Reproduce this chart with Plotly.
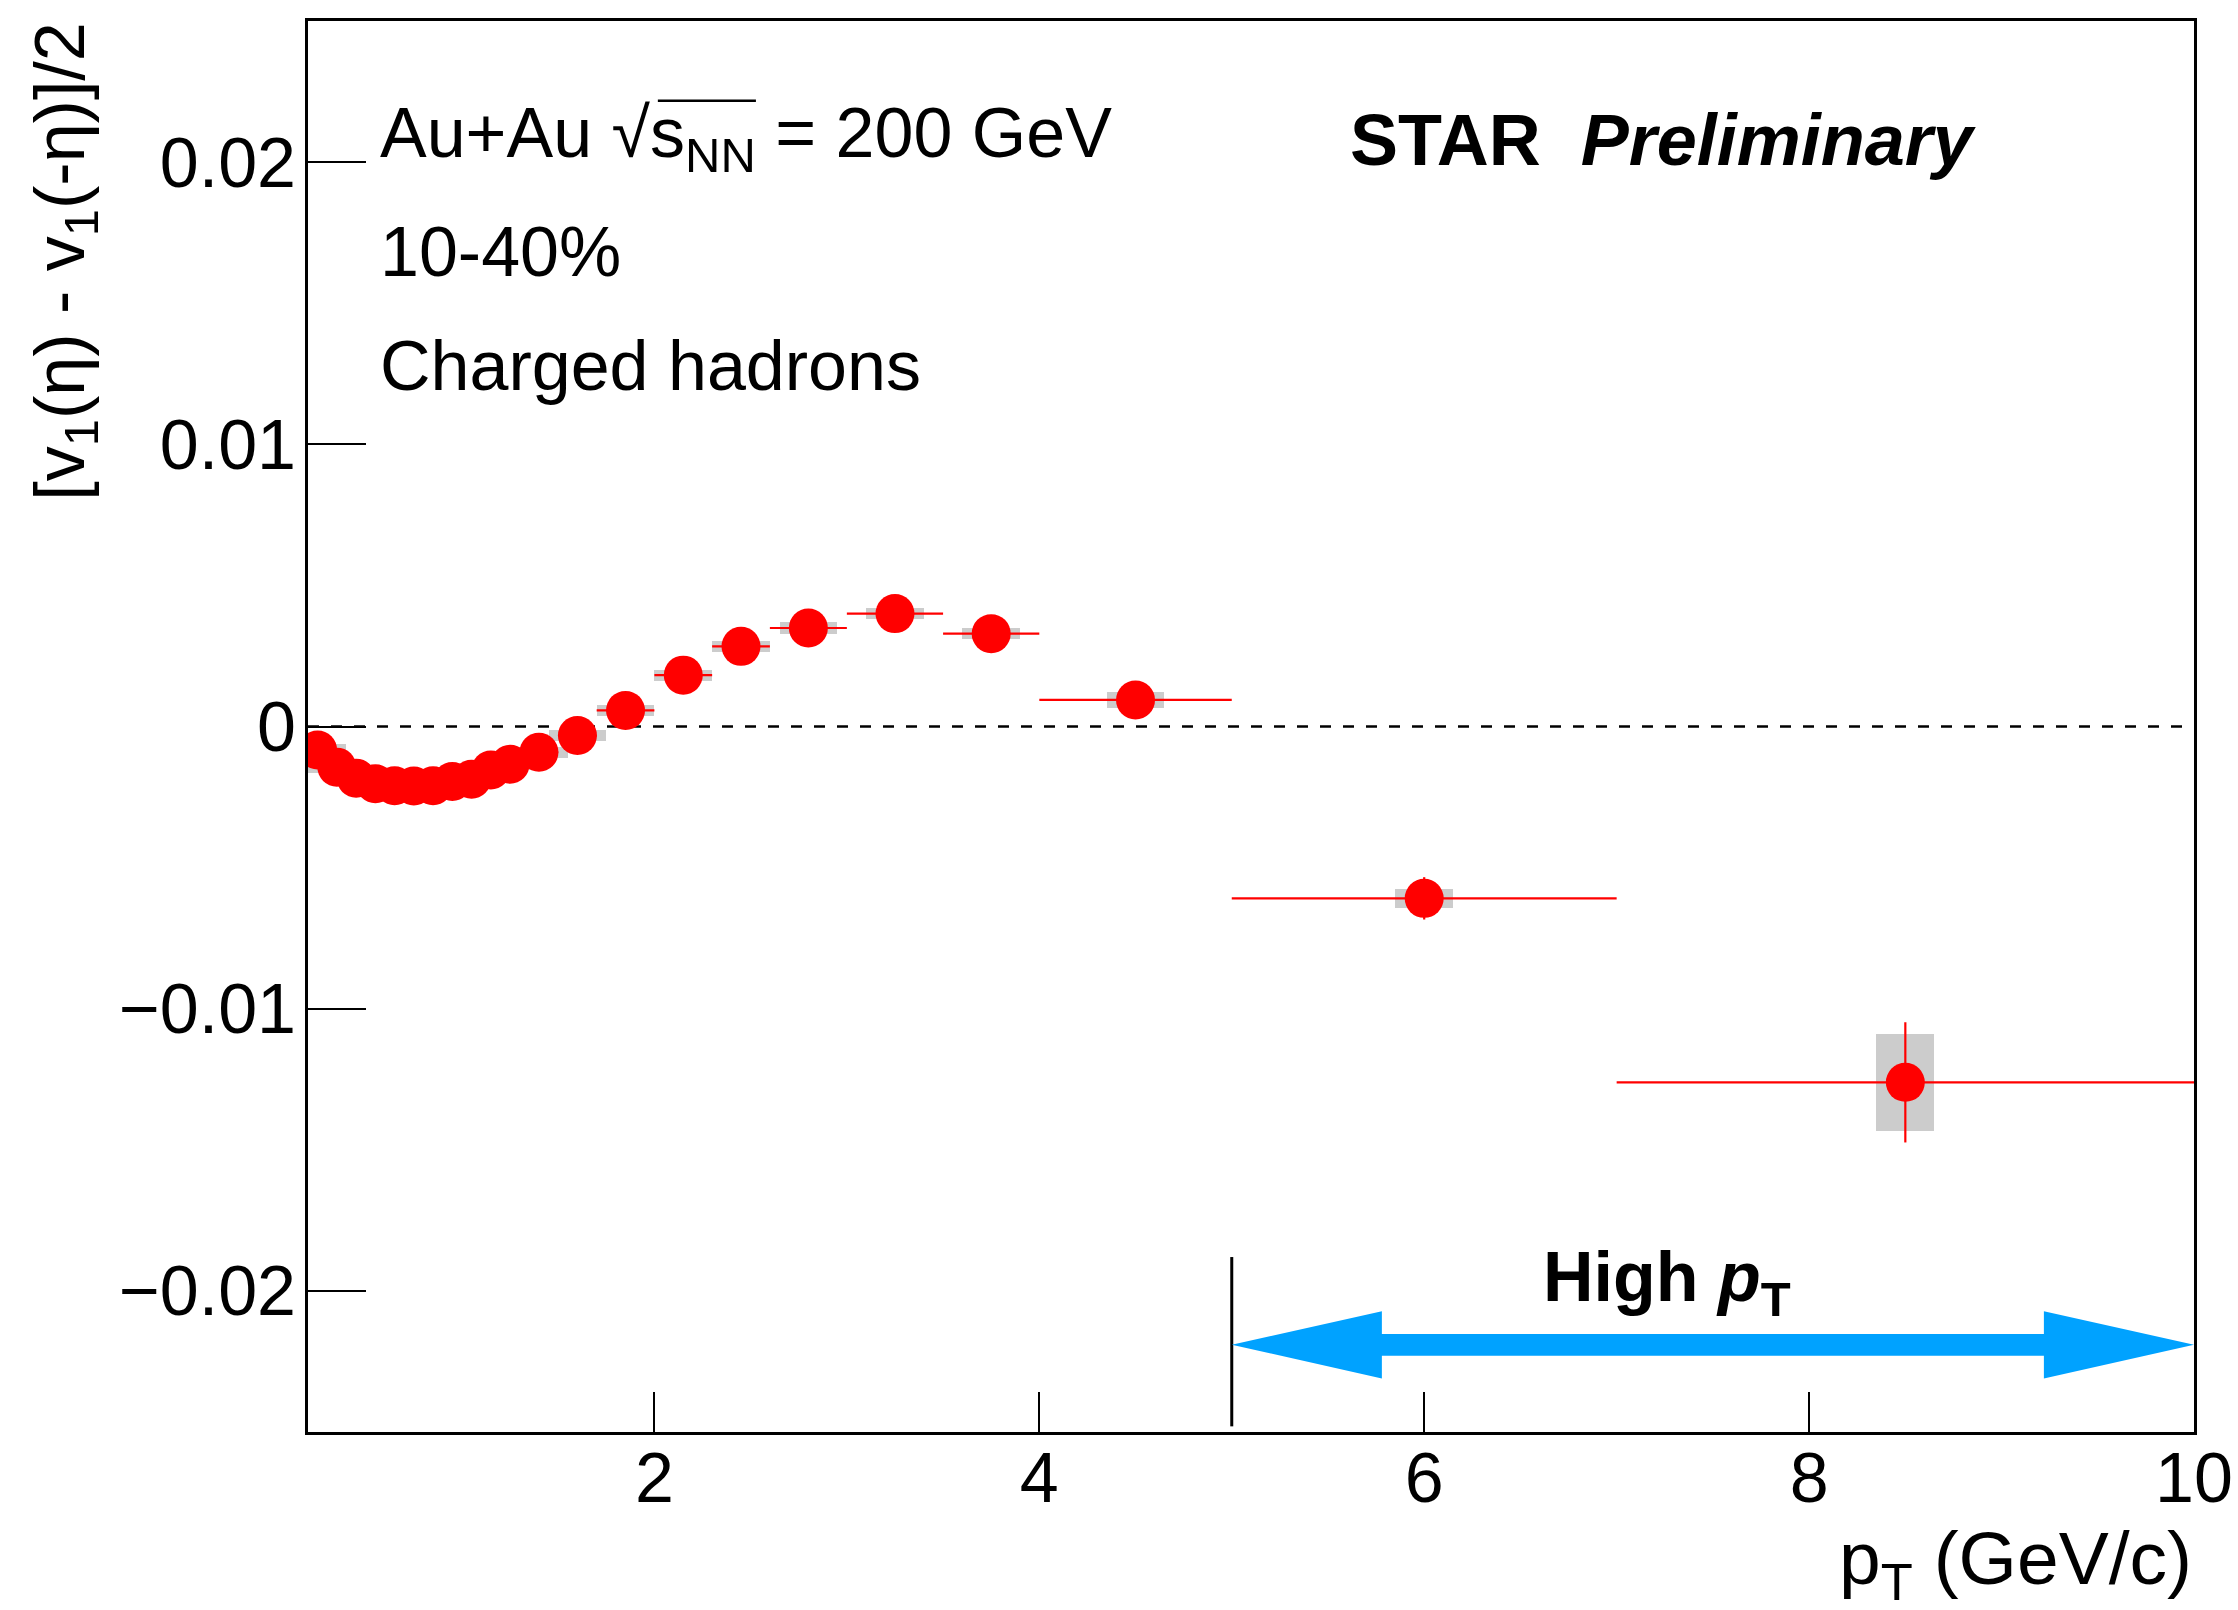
import plotly.graph_objects as go

# ---------------- data ----------------
pt = [0.25, 0.35, 0.45, 0.55, 0.65, 0.75, 0.85, 0.95, 1.05, 1.15, 1.25,
      1.4, 1.6, 1.85, 2.15, 2.45, 2.8, 3.25, 3.75, 4.5, 6.0, 8.5]
v1_odd = [-0.00083, -0.00144, -0.00183, -0.00203, -0.00210, -0.00211, -0.00210,
          -0.00195, -0.00187, -0.00154, -0.00134, -0.00091, -0.00032, 0.00057,
          0.00182, 0.00284, 0.00349, 0.00400, 0.00329, 0.00094, -0.00609, -0.01261]
pt_binhalf = [0.05, 0.05, 0.05, 0.05, 0.05, 0.05, 0.05, 0.05, 0.05, 0.05, 0.05,
              0.1, 0.1, 0.15, 0.15, 0.15, 0.2, 0.25, 0.25, 0.5, 1.0, 1.5]
stat_err = [0.0001, 0.0001, 0.0001, 0.0001, 0.0001, 0.0001, 0.0001, 0.0001, 0.0001,
            0.0001, 0.0001, 0.0001, 0.00012, 0.00015, 0.00015, 0.00018, 0.0002,
            0.00022, 0.00025, 0.0003, 0.00075, 0.00213]
sys_err = [0.0002, 0.0002, 0.0002, 0.0002, 0.0002, 0.0002, 0.0002, 0.0002, 0.0002,
           0.0002, 0.0002, 0.0002, 0.0002, 0.0002, 0.0002, 0.0002, 0.0002,
           0.0002, 0.0002, 0.00028, 0.00033, 0.00173]
sys_halfwidth = 0.15

x_ticks = [2, 4, 6, 8, 10]
y_ticks = [-0.02, -0.01, 0, 0.01, 0.02]
x_range = [0.2, 10]
y_range = [-0.025, 0.025]

high_pt_start = 5.0
high_pt_end = 10.0

FONT = "Liberation Sans, Arial, Helvetica, sans-serif"
FS = 70

fig = go.Figure()

# systematic boxes
fig.add_trace(go.Bar(
    x=pt,
    y=[2 * s for s in sys_err],
    base=[v - s for v, s in zip(v1_odd, sys_err)],
    width=[2 * sys_halfwidth] * len(pt),
    marker=dict(color="#cccccc", line=dict(width=0)),
    showlegend=False, hoverinfo="skip",
))

# data points
fig.add_trace(go.Scatter(
    x=pt, y=v1_odd, mode="markers",
    marker=dict(color="#ff0000", size=39, line=dict(width=0)),
    error_x=dict(type="data", array=pt_binhalf, color="#ff0000", thickness=2.2, width=0),
    error_y=dict(type="data", array=stat_err, color="#ff0000", thickness=2.2, width=0),
    showlegend=False,
))

# zero dashed line
fig.add_shape(type="line", xref="x", yref="y", x0=x_range[0], x1=x_range[1], y0=0, y1=0,
              line=dict(color="black", width=2.5, dash="11px,12px"), layer="below")

# vertical marker line at 5 GeV/c
fig.add_shape(type="line", xref="x", yref="y", x0=high_pt_start, x1=high_pt_start,
              y0=-0.0188, y1=-0.0248, line=dict(color="black", width=3))

# double-headed arrow
yc = -0.02191
head_len = 0.78
shaft_h = 0.000385
head_h = 0.00119
xa, xb = high_pt_start, high_pt_end
pts = [(xa, yc), (xa + head_len, yc + head_h), (xa + head_len, yc + shaft_h),
       (xb - head_len, yc + shaft_h), (xb - head_len, yc + head_h), (xb, yc),
       (xb - head_len, yc - head_h), (xb - head_len, yc - shaft_h),
       (xa + head_len, yc - shaft_h), (xa + head_len, yc - head_h)]
path = "M " + " L ".join(f"{px},{py}" for px, py in pts) + " Z"
fig.add_shape(type="path", xref="x", yref="y", path=path,
              fillcolor="#00a2ff", line=dict(width=0))

ann_font = dict(family=FONT, size=FS, color="black")

fig.add_annotation(x=7.26, y=-0.0197, xref="x", yref="y", showarrow=False,
                   text="<b>High <i>p</i><sub>T</sub></b>", font=ann_font,
                   xanchor="center", yanchor="middle")

# top-left labels
fig.add_annotation(x=0.037, y=0.917, xref="paper", yref="paper", showarrow=False,
                   text="Au+Au √s<sub>NN</sub> = 200 GeV", font=ann_font,
                   xanchor="left", yanchor="middle")
# overline of the square root
fig.add_shape(type="line", xref="paper", yref="paper", x0=0.1855, x1=0.2375,
              y0=0.9435, y1=0.9435, line=dict(color="black", width=2.5))
fig.add_annotation(x=0.037, y=0.836, xref="paper", yref="paper", showarrow=False,
                   text="10-40%", font=ann_font, xanchor="left", yanchor="middle")
fig.add_annotation(x=0.037, y=0.7555, xref="paper", yref="paper", showarrow=False,
                   text="Charged hadrons", font=ann_font, xanchor="left", yanchor="middle")

fig.add_annotation(x=0.886, y=0.916, xref="paper", yref="paper", showarrow=False,
                   text="<b>STAR</b>\u00a0\u00a0<b><i>Preliminary</i></b>",
                   font=dict(family=FONT, size=72, color="black"),
                   xanchor="right", yanchor="middle")

# axis titles
fig.add_annotation(x=-0.129, y=1.0, xref="paper", yref="paper", showarrow=False,
                   text="[v<sub>1</sub>(η) - v<sub>1</sub>(-η)]/2", font=ann_font,
                   textangle=-90, xanchor="center", yanchor="top")
fig.add_annotation(x=1.0, y=0.0, xref="paper", yref="paper", showarrow=False,
                   text="p<sub>T</sub> (GeV/c)",
                   font=dict(family=FONT, size=75, color="black"),
                   xanchor="right", yanchor="top", yshift=-82)

fig.update_xaxes(range=x_range, tickvals=x_ticks, ticks="inside", ticklen=40,
                 tickwidth=2, tickcolor="black", showline=True, linecolor="black",
                 linewidth=3, mirror=True, showgrid=False, zeroline=False,
                 tickfont=dict(family=FONT, size=FS, color="black"),
                 ticklabelstandoff=-17, ticklabeloverflow="allow", automargin=False)
fig.update_yaxes(range=y_range, tickvals=y_ticks, ticks="inside", ticklen=58,
                 tickwidth=2, tickcolor="black", showline=True, linecolor="black",
                 linewidth=3, mirror=True, showgrid=False, zeroline=False,
                 tickfont=dict(family=FONT, size=FS, color="black"),
                 ticklabelstandoff=-5, automargin=False)

fig.update_layout(width=2238, height=1610,
                  margin=dict(l=308, r=44, t=21, b=178),
                  paper_bgcolor="white", plot_bgcolor="white",
                  barmode="overlay", bargap=0, showlegend=False)

fig.write_html("out.html")
